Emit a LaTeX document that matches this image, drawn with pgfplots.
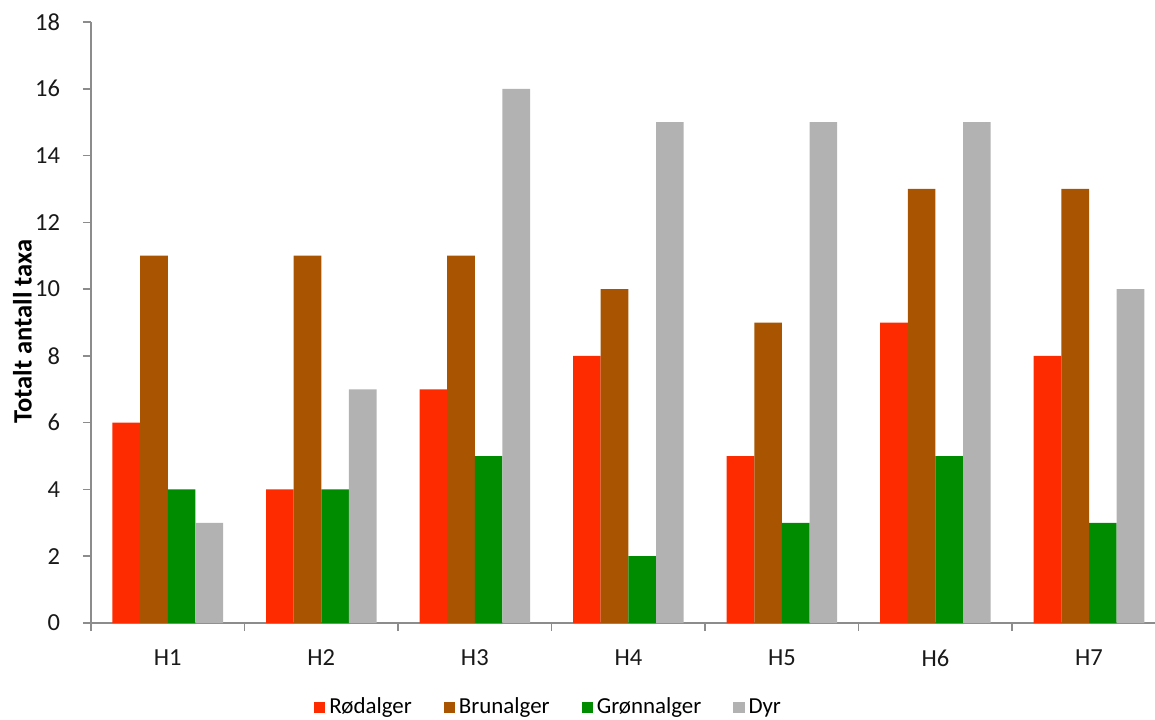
\documentclass[border=0pt]{standalone}
\usepackage{pgfplots}
\pgfplotsset{compat=1.18}
\usepackage{fontspec}
\setmainfont{Carlito}
\definecolor{cred}{HTML}{FF2B00}
\definecolor{cbrown}{HTML}{A85400}
\definecolor{cgreen}{HTML}{008C00}
\definecolor{cgray}{HTML}{B2B2B2}
\definecolor{axgray}{HTML}{8C8C8C}
\begin{document}
\begin{tikzpicture}[x=1bp,y=1bp]
\path[use as bounding box] (-45.5,-48) rectangle (532,311.5);
\begin{axis}[
  at={(0,0)}, anchor=south west,
  scale only axis, width=532bp, height=300.5bp,
  xmin=-0.5, xmax=6.43, ymin=0, ymax=18,
  axis lines*=left,
  axis line style={axgray, line width=0.8bp},
  every tick/.style={axgray, line width=0.8bp},
  tick align=outside,
  ytick={0,2,...,18},
  major tick length=4bp,
  xtick={-0.5,0.5,...,5.5},
  xticklabels={},
  extra x ticks={0,1,2,3,4,5,6},
  extra x tick labels={H1,H2,H3,H4,H5,H6,H7},
  extra x tick style={major tick length=0pt},
  tick label style={font=\fontsize{12.3}{14}\selectfont, text=black!90},
  yticklabel style={xshift=-8bp},
  xticklabel style={yshift=-10bp},
  /pgf/number format/assume math mode=true,
  ylabel={\textbf{Totalt antall taxa}},
  ylabel style={font=\fontsize{13.3}{15}\selectfont, at={(axis description cs:-0.0645,0.485)}, anchor=center, rotate=0},
  ybar=0pt, bar width=0.18,
  legend style={at={(axis description cs:0.431,-0.14)}, anchor=center, draw=none,
    legend columns=4, font=\fontsize{11.5}{13}\selectfont,
    /tikz/every even column/.append style={column sep=14bp}},
  legend image code/.code={\fill[#1] (0bp,-2.8bp) rectangle (5.6bp,2.8bp);},
]
\addplot[fill=cred, draw=none] coordinates {(0,6) (1,4) (2,7) (3,8) (4,5) (5,9) (6,8)};
\addplot[fill=cbrown, draw=none] coordinates {(0,11) (1,11) (2,11) (3,10) (4,9) (5,13) (6,13)};
\addplot[fill=cgreen, draw=none] coordinates {(0,4) (1,4) (2,5) (3,2) (4,3) (5,5) (6,3)};
\addplot[fill=cgray, draw=none] coordinates {(0,3) (1,7) (2,16) (3,15) (4,15) (5,15) (6,10)};
\legend{Rødalger, Brunalger, Grønnalger, Dyr}
\end{axis}
\end{tikzpicture}
\end{document}
